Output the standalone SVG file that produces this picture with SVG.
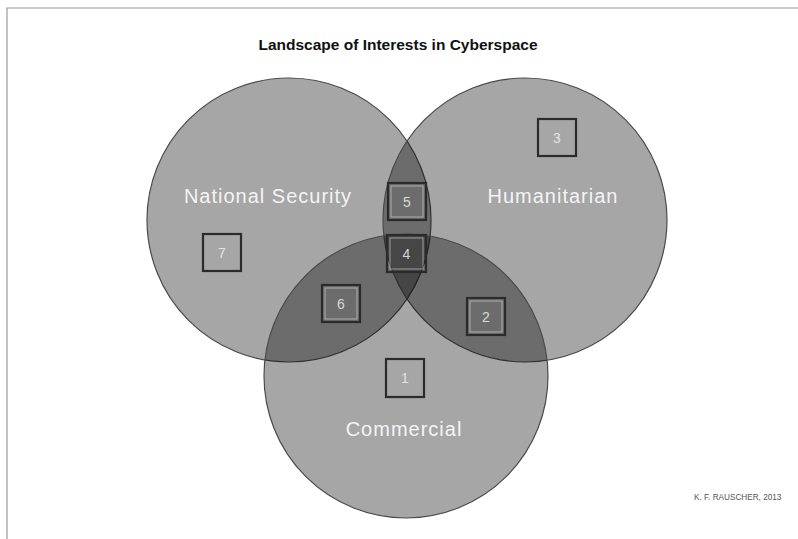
<svg xmlns="http://www.w3.org/2000/svg" width="798" height="539" viewBox="0 0 798 539">
<style>
.frame{stroke:#9a9a9a;stroke-width:1.2;fill:none}
.title{font-family:"Liberation Sans",Arial,sans-serif;font-weight:bold;font-size:15.5px;fill:#111;text-anchor:middle}
.circ{fill:#000;fill-opacity:0.35;stroke:#4a4a4a;stroke-width:1.2}
.lbl{font-family:"Liberation Sans",Arial,sans-serif;font-size:20px;letter-spacing:1px;fill:#fff;fill-opacity:0.9;text-anchor:middle}
.box{fill:none;stroke:#2b2b2b;stroke-width:2.2}
.inner{fill:none;stroke:#e6e6e6;stroke-opacity:0.55;stroke-width:1}
.num{font-family:"Liberation Sans",Arial,sans-serif;font-size:14px;fill:#eee;fill-opacity:0.85;text-anchor:middle}
.credit{font-family:"Liberation Sans",Arial,sans-serif;font-size:8.2px;fill:#555}
</style>
<rect x="0" y="0" width="798" height="539" fill="#fff"/>
<path class="frame" d="M7,539 V8 H798"/>
<text class="title" x="398" y="50">Landscape of Interests in Cyberspace</text>

<g id="national-security">
<circle class="circ" cx="289" cy="220" r="142"/>
</g>
<g id="humanitarian">
<circle class="circ" cx="525" cy="220" r="142"/>
</g>
<g id="commercial">
<circle class="circ" cx="406" cy="376" r="142"/>
</g>

<g id="labels">
<text class="lbl" x="268" y="203">National Security</text>
<text class="lbl" x="553" y="203">Humanitarian</text>
<text class="lbl" x="404" y="436">Commercial</text>
</g>

<g id="box-7">
<rect class="box" x="203" y="234" width="38" height="37"/>
<text class="num" x="222" y="258">7</text>
</g>
<g id="box-3">
<rect class="box" x="538" y="119" width="38" height="37"/>
<text class="num" x="557" y="143">3</text>
</g>
<g id="box-5">
<rect class="box" x="388" y="183" width="38" height="37"/>
<rect class="inner" x="391" y="186" width="32" height="31"/>
<text class="num" x="407" y="207">5</text>
</g>
<g id="box-4">
<rect class="box" x="387" y="235" width="39" height="37"/>
<rect class="inner" x="390" y="238" width="33" height="31"/>
<text class="num" x="406.5" y="259">4</text>
</g>
<g id="box-6">
<rect class="box" x="322" y="285" width="38" height="37"/>
<rect class="inner" x="325" y="288" width="32" height="31"/>
<text class="num" x="341" y="309">6</text>
</g>
<g id="box-2">
<rect class="box" x="467" y="298" width="38" height="37"/>
<rect class="inner" x="470" y="301" width="32" height="31"/>
<text class="num" x="486" y="322">2</text>
</g>
<g id="box-1">
<rect class="box" x="386" y="359" width="38" height="38"/>
<text class="num" x="405" y="383">1</text>
</g>

<text class="credit" x="694" y="500">K. F. RAUSCHER, 2013</text>
</svg>
